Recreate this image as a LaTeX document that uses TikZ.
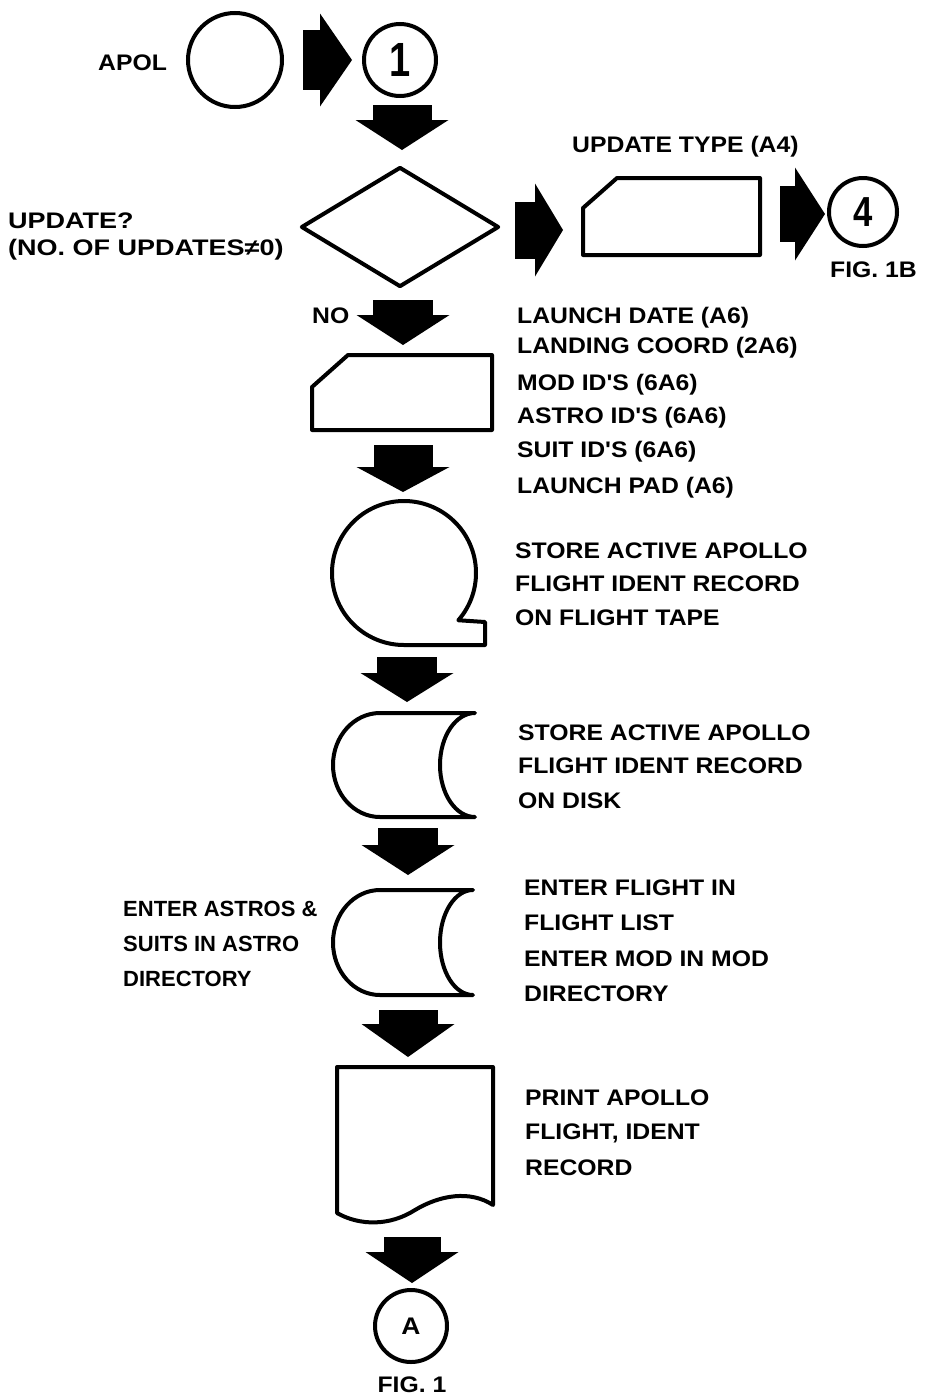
\documentclass[tikz,border=0pt]{standalone}
\usepackage{fontspec}
\newfontfamily\lab{Liberation Sans}[FakeStretch=1.1]
\newfontfamily\labn{Liberation Sans}[FakeStretch=1.0]
\newfontfamily\labw{Liberation Sans}[FakeStretch=1.2]
\usetikzlibrary{arrows.meta,shapes.geometric}
\begin{document}
\begin{tikzpicture}[x=1pt,y=1pt,
  lbl/.style={font=\lab\bfseries\fontsize{22.5}{22.5}\selectfont, inner sep=0pt, anchor=base west},
  lbln/.style={lbl, font=\labn\bfseries\fontsize{22}{22}\selectfont},
  lblw/.style={lbl, font=\labw\bfseries\fontsize{22.5}{22.5}\selectfont},
  shp/.style={draw=black, line width=4pt, line join=round, fill=white},
  conn/.style={draw=black, inner sep=0pt, line width=4pt, fill=white, circle},
  blk/.style 2 args={line width=#1, -{Triangle[width=93pt, length=#2, line width=0pt]}},
]
\useasboundingbox[fill=white] (0,0) rectangle (924,-1395);

% --- top row
\node[lbl] (apol) at (98,-70) {APOL};
\node[conn, minimum size=94pt] (term) at (235,-60) {};
\node[conn, minimum size=72pt] (c1) at (400,-60) {\lab\bfseries\scalebox{0.72}[1]{\fontsize{48}{48}\selectfont 1}};
\coordinate (r1s) at (303,-60); \coordinate (r1e) at (352,-60);
\draw[blk={60pt}{32pt}] (r1s) -- (r1e);
\coordinate (d1s) at (402,-105); \coordinate (d1e) at (402,-150);
\draw[blk={59pt}{30pt}] (d1s) -- (d1e);

% --- decision
\node[shp, shape=diamond, minimum width=198pt, minimum height=120pt, inner sep=0pt] (dec) at (400,-227) {};
\node[lblw] (q1) at (8,-228) {UPDATE?};
\node[lblw] (q2) at (8,-255) {(NO. OF UPDATES≠0)};
\coordinate (r2s) at (515,-230); \coordinate (r2e) at (563,-230);
\draw[blk={57pt}{28pt}] (r2s) -- (r2e);

% --- update type card
\draw[shp] (583,-255) -- (583,-208) -- (617,-178) -- (760,-178) -- (760,-255) -- cycle;
\node[lbl] (ut) at (572,-152) {UPDATE TYPE (A4)};
\coordinate (r3s) at (780,-214); \coordinate (r3e) at (825,-214);
\draw[blk={56pt}{30pt}] (r3s) -- (r3e);
\node[conn, minimum size=68pt] (c4) at (863,-212) {\lab\bfseries\scalebox{0.75}[1]{\fontsize{42}{42}\selectfont 4}};
\node[lbl] (f1b) at (830,-277) {FIG. 1B};

% --- NO arrow and card
\node[lbl] (no) at (312,-323) {NO};
\coordinate (nos) at (403,-300); \coordinate (noe) at (403,-345);
\draw[blk={60pt}{30pt}] (nos) -- (noe);
\draw[shp] (312,-430) -- (312,-387) -- (348,-355) -- (492,-355) -- (492,-430) -- cycle;
\node[lbl] (t1) at (517,-323) {LAUNCH DATE (A6)};
\node[lbl] (t2) at (517,-353) {LANDING COORD (2A6)};
\node[lbl] (t3) at (517,-390) {MOD ID'S (6A6)};
\node[lbl] (t4) at (517,-423) {ASTRO ID'S (6A6)};
\node[lbl] (t5) at (517,-457) {SUIT ID'S (6A6)};
\node[lbl] (t6) at (517,-493) {LAUNCH PAD (A6)};
\coordinate (d3s) at (403,-445); \coordinate (d3e) at (403,-492);
\draw[blk={59pt}{25pt}] (d3s) -- (d3e);

% --- tape
\draw[shp] (404,-573) ++(-41:72) arc[start angle=-41, end angle=270, radius=72]
   -- (485,-645) -- (485,-622) -- cycle;
\node[lbl] (s1) at (515,-558) {STORE ACTIVE APOLLO};
\node[lbl] (s2) at (515,-591) {FLIGHT IDENT RECORD};
\node[lbl] (s3) at (515,-625) {ON FLIGHT TAPE};
\coordinate (d4s) at (407,-657); \coordinate (d4e) at (407,-702);
\draw[blk={60pt}{29pt}] (d4s) -- (d4e);

% --- disk 1
\draw[shp] (380,-713) -- (475,-713) arc[start angle=90, end angle=270, x radius=35, y radius=52]
   -- (380,-817) arc[start angle=270, end angle=90, x radius=47, y radius=52] -- cycle;
\node[lbl] (k1) at (518,-740) {STORE ACTIVE APOLLO};
\node[lbl] (k2) at (518,-773) {FLIGHT IDENT RECORD};
\node[lbl] (k3) at (518,-808) {ON DISK};
\coordinate (d5s) at (408,-828); \coordinate (d5e) at (408,-875);
\draw[blk={60pt}{30pt}] (d5s) -- (d5e);

% --- disk 2
\draw[shp] (380,-890) -- (473,-890) arc[start angle=90, end angle=270, x radius=33, y radius=52.5]
   -- (380,-995) arc[start angle=270, end angle=90, x radius=47, y radius=52.5] -- cycle;
\node[lbln] (e1) at (123,-916) {ENTER ASTROS \&};
\node[lbln] (e2) at (123,-951) {SUITS IN ASTRO};
\node[lbln] (e3) at (123,-986) {DIRECTORY};
\node[lbl] (f1) at (524,-895) {ENTER FLIGHT IN};
\node[lbl] (f2) at (524,-930) {FLIGHT LIST};
\node[lbl] (f3) at (524,-966) {ENTER MOD IN MOD};
\node[lbl] (f4) at (524,-1001) {DIRECTORY};
\coordinate (d6s) at (408,-1010); \coordinate (d6e) at (408,-1057);
\draw[blk={59pt}{33pt}] (d6s) -- (d6e);

% --- document
\draw[shp] (337,-1067) -- (493,-1067) -- (493,-1205)
   .. controls (470,-1190) and (440,-1195) .. (415,-1210)
   .. controls (390,-1226) and (360,-1226) .. (337,-1213) -- cycle;
\node[lbl] (p1) at (525,-1105) {PRINT APOLLO};
\node[lbl] (p2) at (525,-1139) {FLIGHT, IDENT};
\node[lbl] (p3) at (525,-1175) {RECORD};
\coordinate (d7s) at (412,-1237); \coordinate (d7e) at (412,-1283);
\draw[blk={57pt}{31pt}] (d7s) -- (d7e);

% --- off-page connector
\node[conn, minimum size=72pt] (ca) at (411,-1326) {\lab\bfseries\fontsize{24}{24}\selectfont A};
\node[lbl, anchor=base] (fig1) at (412,-1392) {FIG. 1};
\end{tikzpicture}
\end{document}
